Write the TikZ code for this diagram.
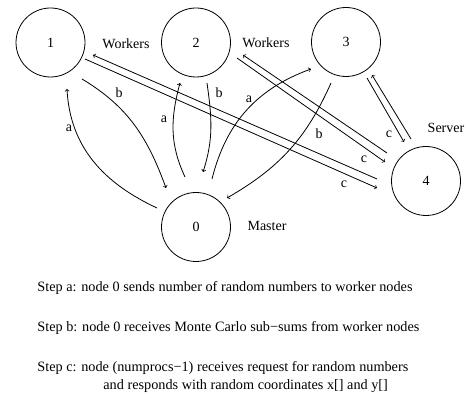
\documentclass[tikz,border=0pt]{standalone}
\usepackage{fontspec}
\setmainfont{Liberation Serif}
\usetikzlibrary{calc}

\begin{document}
\begin{tikzpicture}[x=1pt,y=1pt,line width=0.8pt,font=\fontsize{14}{17}\selectfont,
  proc/.style={draw,circle,minimum size=69pt,inner sep=0pt},
  steptext/.style={anchor=west,inner sep=0pt,font=\fontsize{14.25}{17}\selectfont}]
\useasboundingbox (0,0) rectangle (476,406);
  \node[proc] (P1) at (50.5,363.5) {1};
  \node[proc] (P2) at ($(P1)+(145.5,0)$) {2};
  \node[proc] (P3) at ($(P2)+(150,0.5)$) {3};
  \node[proc] (P0) at ($(P2)+(0,-184.5)$) {0};
  \node[proc] (P4) at ($(P0)+(230,46)$) {4};
  \node (W1) at ($(P1)+(75.5,-1.5)$) {Workers};
  \node (W2) at ($(P2)+(70,-0.5)$) {Workers};
  \node (Srv) at ($(P4)+(20,53)$) {Server};
  \node (Mst) at ($(P0)+(71,1)$) {Master};
  % step a: master to workers, step b: workers to master
  \path[->] ($(P0)+(-39,19)$) edge[out=155,in=273] ($(P1)+(16.5,-46.5)$)
    ($(P1)+(31.5,-36.5)$) edge[out=-31,in=110] ($(P0)+(-30,39)$)
    ($(P0)+(-11,50)$) edge[out=115,in=255] ($(P2)+(-16,-40.5)$)
    ($(P2)+(11,-40.5)$) edge[out=-82,in=72] ($(P0)+(7,55)$)
    ($(P0)+(16,48)$) edge[out=76,in=200] ($(P3)+(-35,-27)$)
    ($(P3)+(-15,-41)$) edge[out=246,in=30] ($(P0)+(31,29)$);
  \node (La1) at ($(P1)+(18.5,-85.5)$) {a};
  \node (Lb1) at ($(P1)+(68.5,-50.5)$) {b};
  \node (La2) at ($(P2)+(-32,-76.5)$) {a};
  \node (Lb2) at ($(P2)+(23,-50.5)$) {b};
  \node (La3) at ($(P3)+(-97,-57)$) {a};
  \node (Lb3) at ($(P3)+(-27,-92)$) {b};
  % step c: workers and server
  \path[->] ($(P4)+(-49,2)$) edge ($(P1)+(42.5,-12.5)$)
    ($(P1)+(34.5,-16.5)$) edge ($(P4)+(-49,-7)$)
    ($(P4)+(-39,28)$) edge ($(P2)+(47,-12.5)$)
    ($(P2)+(41,-15.5)$) edge ($(P4)+(-41,19)$)
    ($(P3)+(21,-36)$) edge ($(P4)+(-22,39)$)
    ($(P4)+(-15,42)$) edge ($(P3)+(26,-33)$);
  \node (Lc3) at ($(P4)+(-37,47)$) {c};
  \node (Lc2) at ($(P4)+(-62,22)$) {c};
  \node (Lc1) at ($(P4)+(-82,-3)$) {c};
  \node[steptext] (Sa) at (37,118) {Step a: node 0 sends number of random numbers to worker nodes};
  \node[steptext] (Sb) at ($(Sa.west)+(0,-40)$) {Step b: node 0 receives Monte Carlo sub−sums from worker nodes};
  \node[steptext] (Sc) at ($(Sb.west)+(0,-40)$) {Step c: node (numprocs−1) receives request for random numbers};
  \node[steptext] (Sc2) at ($(Sc.west)+(66,-18)$) {and responds with random coordinates x[]\ and y[]};
\end{tikzpicture}
\end{document}
